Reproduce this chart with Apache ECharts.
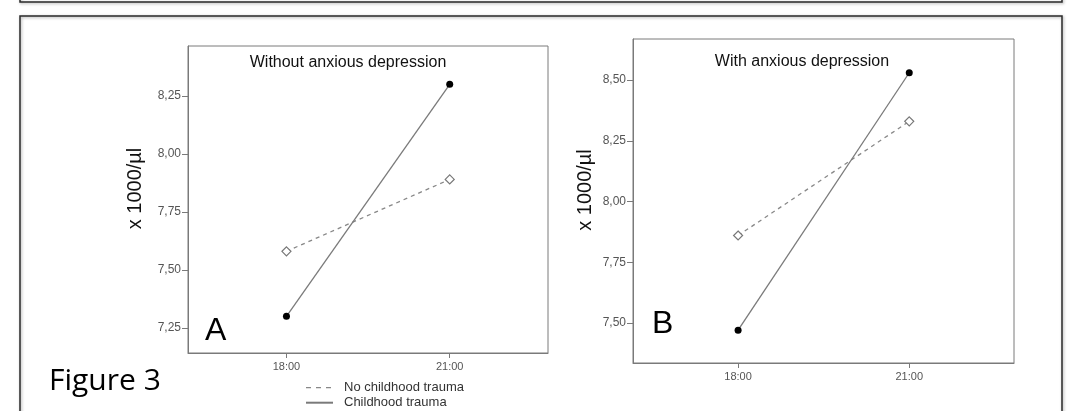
<!DOCTYPE html>
<html>
<head>
<meta charset="utf-8">
<script src="https://cdn.jsdelivr.net/npm/echarts@6/dist/echarts.min.js"></script>
<style>
html,body{margin:0;padding:0;background:#fff;}
#c{width:1069px;height:411px;}
</style>
</head>
<body>
<div id="c"></div>
<script>
// ---- data ----
const categories = ['18:00', '21:00'];
const seriesNames = ['No childhood trauma', 'Childhood trauma'];
// Panel A: without anxious depression
const noTraumaA = [7.58, 7.89];
const traumaA = [7.30, 8.30];
// Panel B: with anxious depression
const noTraumaB = [7.86, 8.33];
const traumaB = [7.47, 8.53];
// tick labels
const yTicksA = [7.25, 7.50, 7.75, 8.00, 8.25];
const yTicksB = [7.50, 7.75, 8.00, 8.25, 8.50];
const panelTitles = ['Without anxious depression', 'With anxious depression'];
const panelLetters = ['A', 'B'];
const yAxisName = 'x 1000/µl';
const figureLabel = 'Figure 3';

const toPts = vals => categories.map((c, i) => [i, vals[i]]);
const fmtY = v => v.toFixed(2).replace('.', ',');
const catIdx = categories.map((c, i) => i);

const chart = echarts.init(document.getElementById('c'), null, {renderer: 'canvas'});

const axisGray = '#7a7a7a';
const lineGray = '#7a7a7a';
const tickText = '#555';
const FONT = 'Liberation Sans, Arial, sans-serif';

function xAxisCfg(gi, min, max) {
  return {
    type: 'value', gridIndex: gi, min: min, max: max,
    axisLine: {show: true, onZero: false, lineStyle: {color: axisGray, width: 1}},
    axisTick: {show: true, length: 5, customValues: catIdx, lineStyle: {color: axisGray}},
    axisLabel: {customValues: catIdx, formatter: v => categories[Math.round(v)], color: tickText, fontSize: 11, fontFamily: FONT, margin: 8},
    splitLine: {show: false}
  };
}
function yAxisCfg(gi, min, max, ticks, nameGap) {
  return {
    type: 'value', gridIndex: gi, min: min, max: max,
    name: yAxisName, nameLocation: 'middle', nameGap: nameGap, nameRotate: 90,
    nameTextStyle: {color: '#111', fontSize: 20, fontFamily: FONT, padding: [0, 0, 0, 22]},
    axisLine: {show: true, onZero: false, lineStyle: {color: axisGray, width: 1}},
    axisTick: {show: true, length: 6, customValues: ticks, lineStyle: {color: axisGray}},
    axisLabel: {customValues: ticks, formatter: fmtY, color: tickText, fontSize: 12, fontFamily: FONT, margin: 7},
    splitLine: {show: false}
  };
}
function seriesPair(gi, noT, tr) {
  return [
    {
      name: seriesNames[0], type: 'line', xAxisIndex: gi, yAxisIndex: gi,
      data: toPts(noT), symbol: 'diamond', symbolSize: 9,
      lineStyle: {color: '#888', width: 1.3, type: [4, 4]},
      itemStyle: {color: '#fff', borderColor: '#777', borderWidth: 1.2},
      emphasis: {disabled: true}, silent: true, z: 3
    },
    {
      name: seriesNames[1], type: 'line', xAxisIndex: gi, yAxisIndex: gi,
      data: toPts(tr), symbol: 'circle', symbolSize: 7,
      lineStyle: {color: lineGray, width: 1.3, type: 'solid'},
      itemStyle: {color: '#000', borderColor: '#000', borderWidth: 0},
      emphasis: {disabled: true}, silent: true, z: 4
    }
  ];
}

const option = {
  animation: false,
  backgroundColor: '#fff',
  grid: [
    {left: 188, top: 46, width: 360, height: 307, show: true, borderColor: axisGray, borderWidth: 1, backgroundColor: 'transparent', containLabel: false},
    {left: 633, top: 39, width: 381, height: 324, show: true, borderColor: axisGray, borderWidth: 1, backgroundColor: 'transparent', containLabel: false}
  ],
  xAxis: [xAxisCfg(0, -0.603, 1.602), xAxisCfg(1, -0.614, 1.612)],
  yAxis: [yAxisCfg(0, 7.142, 8.465, yTicksA, 43), yAxisCfg(1, 7.335, 8.669, yTicksB, 38)],
  title: [
    {text: panelTitles[0], left: 348, top: 55, textAlign: 'center', padding: 0, textStyle: {fontSize: 16, fontWeight: 'normal', color: '#111', fontFamily: FONT}},
    {text: panelTitles[1], left: 802, top: 54, textAlign: 'center', padding: 0, textStyle: {fontSize: 16, fontWeight: 'normal', color: '#111', fontFamily: FONT}},
    {text: panelLetters[0], left: 205, top: 315, padding: 0, textStyle: {fontSize: 32, fontWeight: 'normal', color: '#000', fontFamily: FONT}},
    {text: panelLetters[1], left: 652, top: 308, padding: 0, textStyle: {fontSize: 32, fontWeight: 'normal', color: '#000', fontFamily: FONT}},
    {text: figureLabel, left: 49, top: 366, padding: 0, textStyle: {fontSize: 30, fontWeight: 'normal', color: '#000', fontFamily: 'Open Sans, Lato, sans-serif'}}
  ],
  legend: {
    orient: 'vertical', left: 305, top: 381, padding: 0, itemGap: 2,
    itemWidth: 27, itemHeight: 14, selectedMode: false,
    data: [
      {name: seriesNames[0], itemStyle: {opacity: 0}, lineStyle: {type: [5, 5], width: 1.3}},
      {name: seriesNames[1], itemStyle: {opacity: 0}}
    ],
    textStyle: {color: '#333', fontSize: 13, fontFamily: FONT, padding: [0, 0, 0, 6]}
  },
  graphic: [
    {type: 'rect', shape: {x: 20, y: -20, width: 1042, height: 22}, style: {fill: 'none', stroke: '#2a2a2a', lineWidth: 1.5, shadowBlur: 3, shadowColor: 'rgba(0,0,0,0.35)', shadowOffsetX: 1, shadowOffsetY: 1}, silent: true, z: 0},
    {type: 'rect', shape: {x: 20, y: 16, width: 1042, height: 420}, style: {fill: 'none', stroke: '#2a2a2a', lineWidth: 1.5, shadowBlur: 3, shadowColor: 'rgba(0,0,0,0.35)', shadowOffsetX: 1, shadowOffsetY: 1}, silent: true, z: 0}
  ],
  series: [].concat(seriesPair(0, noTraumaA, traumaA), seriesPair(1, noTraumaB, traumaB))
};
chart.setOption(option);
</script>
</body>
</html>
